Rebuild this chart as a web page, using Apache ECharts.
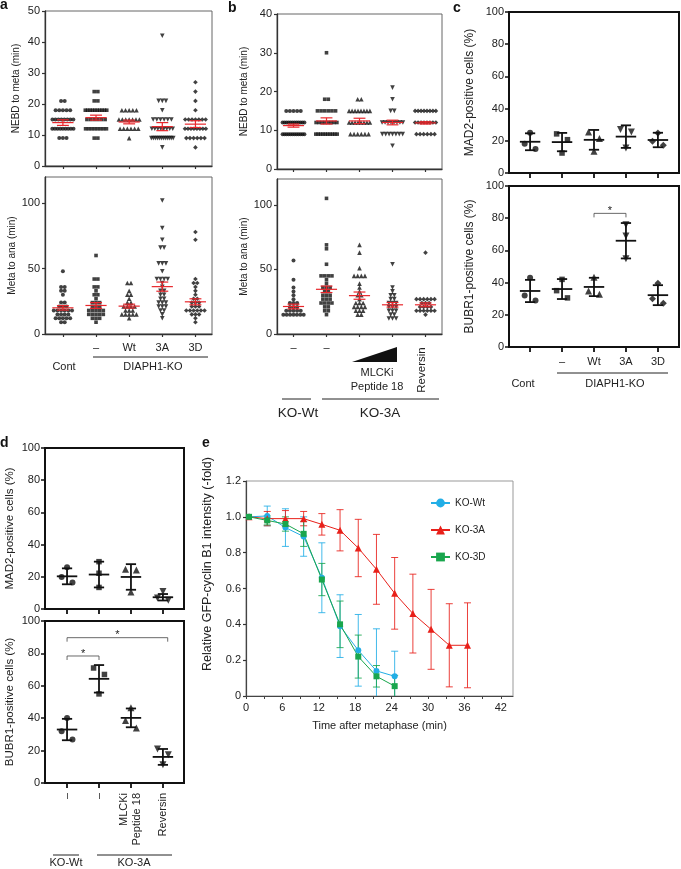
<!DOCTYPE html>
<html><head><meta charset="utf-8">
<script src="https://cdn.jsdelivr.net/npm/echarts@6/dist/echarts.min.js"></script>
<style>html,body{margin:0;padding:0;background:#fff}#c{width:681px;height:869px}</style>
</head><body><div id="c"></div>
<script>
// ================= DATA =================
// Panel a (DIAPH1-KO rescue)
const aLabels = ['', '–', 'Wt', '3A', '3D'];
const aShapes = ['circle', 'rect', 'triangle', 'triangle-down', 'diamond'];
const aNebdCont = [21,21,18,18,18,18,18,15,15,15,15,15,15,15,15,12,12,12,12,12,12,12,12,12,9,9,9];
const aNebdKO   = [24,24,21,21,18,18,18,18,18,18,18,18,18,18,15,15,15,15,15,15,12,12,12,12,12,12,12,12,9,9];
const aNebdWt   = [18,18,18,18,18,15,15,15,15,15,15,15,12,12,12,12,12,12,9];
const aNebd3A   = [42,21,21,21,18,15,15,15,15,15,15,12,12,12,12,12,12,12,12,9,9,9,9,9,9,9,9,9,9,9,9,6];
const aNebd3D   = [27,24,21,18,15,15,15,15,15,15,15,12,12,12,12,12,12,12,12,9,9,9,9,9,9,6];
const aNebdMean = [14.0, 15.6, 14.2, 12.7, 13.5];
const aNebdSem  = [0.9, 0.8, 0.6, 1.3, 1.1];
const aMetaCont = [48,36,36,33,33,30,24,24,21,21,21,18,18,18,18,18,18,15,15,15,15,12,12,12,12,12,9,9];
const aMetaKO   = [60,42,42,36,36,33,30,30,27,24,24,24,21,21,21,18,18,18,18,18,15,15,15,15,15,12,12,12,9];
const aMetaWt   = [39,39,33,30,30,27,24,24,21,21,21,21,18,18,18,15,15,15,15,15,12];
const aMeta3A   = [102,81,72,66,66,54,54,54,48,42,42,42,42,39,36,33,33,30,30,27,27,24,24,24,21,21,21,18,18,15,12];
const aMeta3D   = [78,72,42,39,39,36,33,30,27,27,24,24,24,21,21,21,18,18,18,18,18,18,15,15,15,12,9];
const aMetaMean = [20.0, 21.8, 21.3, 36.2, 24.6];
const aMetaSem  = [1.7, 2.2, 1.5, 3.5, 2.3];

// Panel b (KO-Wt / KO-3A + inhibitors)
const bShapes = ['circle', 'rect', 'triangle', 'triangle-down', 'diamond'];
const bNebdWt   = [15,15,15,15,15,12,12,12,12,12,12,12,12,12,12,12,12,9,9,9,9,9,9,9,9,9,9,9,9];
const bNebd3A   = [30,18,18,15,15,15,15,15,15,12,12,12,12,12,12,12,12,9,9,9,9,9,9,9,9,9,9];
const bNebdMlo  = [18,18,15,15,15,15,15,15,15,15,12,12,12,12,12,12,12,12,9,9,9,9,9,9];
const bNebdMhi  = [21,18,15,15,12,12,12,12,12,12,12,12,9,9,9,9,9,9,9,6];
const bNebdRev  = [15,15,15,15,15,15,15,15,12,12,12,12,12,12,12,12,9,9,9,9,9,9];
const bNebdMean = [11.2, 12.4, 12.4, 12.0, 11.9];
const bNebdSem  = [0.4, 0.8, 0.7, 0.6, 0.3];
const bMetaWt   = [57,42,36,33,30,27,24,24,24,21,21,21,18,18,18,18,18,15,15,15,15,15,15,15];
const bMeta3A   = [105,69,66,54,45,45,45,45,42,39,36,36,36,33,33,30,30,30,27,27,27,24,24,24,24,21,21,18,18,15];
const bMetaMlo  = [69,63,51,45,45,45,45,39,36,33,30,30,27,24,24,24,21,21,21,21,18,18,18,15,15];
const bMetaMhi  = [54,36,33,30,30,27,27,24,24,24,21,21,21,18,18,18,15,15,12,12,12];
const bMetaRev  = [63,27,27,27,27,27,27,24,24,24,21,21,21,21,18,18,18,18,18,18,15];
const bMetaMean = [21.3, 34.6, 29.7, 22.6, 22.6];
const bMetaSem  = [1.8, 2.5, 2.8, 1.8, 1.5];

// Panel c (MAD2 / BUBR1, DIAPH1-KO rescue)
const cShapes = ['circle', 'rect', 'triangle', 'triangle-down', 'diamond'];
const cMad2Pts  = [[25, 18.2, 14.9], [24.3, 20.7, 12.4], [25.5, 21.5, 13.5], [27, 25.5, 15.5], [24.8, 19.7, 17.2]];
const cMad2Mean = [19.4, 19.2, 20.6, 22.6, 20.5];
const cMad2Sd   = [5.25, 5.7, 6.15, 7.0, 4.5];
const cBubPts   = [[43, 32, 28.9], [42, 35, 30.5], [43.3, 34.8, 32.8], [76, 69, 54.8], [39.6, 29.9, 27.2]];
const cBubMean  = [34.8, 36.0, 37.3, 66.0, 32.2];
const cBubSd    = [6.9, 6.2, 5.7, 11.0, 6.2];
const cBubSig   = [[2, 3, 83]];

// Panel d (MAD2 / BUBR1, KO-3A + inhibitors)
const dLabels = ['–', '–', 'MLCKi\nPeptide 18', 'Reversin'];
const dShapes = ['circle', 'rect', 'triangle', 'triangle-down'];
const dMad2Pts  = [[26, 19.8, 16.5], [29.4, 22.2, 13.4], [24.7, 24.3, 10.5], [10.9, 6.8, 5.5]];
const dMad2Mean = [20.3, 21.4, 19.9, 7.3];
const dMad2Sd   = [4.95, 8.0, 7.95, 2.0];
const dBubPts   = [[40.2, 32, 26.8], [71, 67, 55], [46.4, 38.6, 34], [21, 17.5, 11.3]];
const dBubMean  = [33.0, 64.3, 40.2, 16.1];
const dBubSd    = [6.6, 8.5, 5.8, 4.9];
const dBubSig   = [[0, 1, 78.4], [0, 3.15, 89.7]];

// Panel e (GFP-cyclin B1 decay)
const eTime   = [0.5, 3.5, 6.5, 9.5, 12.5, 15.5, 18.5, 21.5, 24.5, 27.5, 30.5, 33.5, 36.5];
const eWtMean = [1.0, 1.005, 0.94, 0.89, 0.66, 0.39, 0.255, 0.14, 0.11];
const eWtSd   = [0, 0.055, 0.105, 0.11, 0.195, 0.175, 0.2, 0.235, 0.14];
const e3AMean = [1.0, 0.99, 0.99, 0.99, 0.958, 0.925, 0.826, 0.707, 0.573, 0.46, 0.372, 0.283, 0.283];
const e3ASd   = [0, 0.04, 0.045, 0.04, 0.06, 0.115, 0.16, 0.195, 0.2, 0.22, 0.223, 0.232, 0.237];
const e3DMean = [1.0, 0.98, 0.96, 0.905, 0.65, 0.40, 0.22, 0.11, 0.055];
const e3DSd   = [0, 0.025, 0.04, 0.07, 0.09, 0.13, 0.12, 0.06, 0.06];
const eXTicks = [0, 3, 6, 9, 12, 15, 18, 21, 24, 27, 30, 33, 36, 39, 42];
const eXLabels = [0, 6, 12, 18, 24, 30, 36, 42];

// ================= RENDER =================
const FONT = 'Liberation Sans, Arial, sans-serif';
const chart = echarts.init(document.getElementById('c'), null, {renderer: 'canvas', width: 681, height: 869});

const grids = [
  {left: 45,  top: 11,  width: 167, height: 155},  // 0 a top
  {left: 45,  top: 177, width: 167, height: 157},  // 1 a bottom
  {left: 277, top: 14,  width: 165, height: 155},  // 2 b top
  {left: 277, top: 179, width: 165, height: 155},  // 3 b bottom
  {left: 509, top: 12,  width: 170, height: 161},  // 4 c top
  {left: 509, top: 186, width: 170, height: 161},  // 5 c bottom
  {left: 45,  top: 448, width: 139, height: 161},  // 6 d top
  {left: 45,  top: 621, width: 139, height: 162},  // 7 d bottom
  {left: 246, top: 481, width: 267, height: 215}   // 8 e
];
const frameStyle = [
  ['#666', 1], ['#666', 1], ['#666', 1], ['#666', 1],
  ['#111', 2], ['#111', 2], ['#111', 2], ['#111', 2],
  ['#999', 1]
];
grids.forEach((g, i) => { g.show = true; g.borderColor = frameStyle[i][0]; g.borderWidth = frameStyle[i][1]; g.containLabel = false; });

const range = (n) => Array.from({length: n}, (_, i) => i);

function xAxisCat(gi, min, max, n, opt) {
  const thick = gi >= 4;
  return {
    gridIndex: gi, type: 'value', min, max,
    axisLine: {show: true, onZero: false, lineStyle: {color: thick ? '#111' : '#333', width: thick ? 2 : 1.3}},
    axisTick: {show: true, customValues: range(n), length: thick ? 5 : 3, lineStyle: {color: thick ? '#111' : '#333', width: thick ? 1.8 : 1.2}},
    axisLabel: Object.assign({show: false, color: '#222', fontSize: 11, fontFamily: FONT}, opt || {}),
    splitLine: {show: false}
  };
}
function yAxisVal(gi, min, max, interval, name, nameGap, nameSize, opt) {
  const thick = gi >= 4 && gi <= 7;
  const ax = {
    gridIndex: gi, type: 'value', min, max, interval,
    name, nameLocation: 'middle', nameGap,
    nameTextStyle: {fontSize: nameSize, color: '#222', fontFamily: FONT},
    axisLine: {show: true, onZero: false, lineStyle: {color: thick ? '#111' : '#333', width: thick ? 2 : 1.3}},
    axisTick: {show: true, length: thick ? 4 : 3, lineStyle: {color: thick ? '#111' : '#333', width: thick ? 1.5 : 1.2}},
    axisLabel: {color: '#222', fontSize: 11, fontFamily: FONT, margin: 5},
    splitLine: {show: false}
  };
  if (opt) { for (const k in opt) ax[k] = Object.assign(ax[k] || {}, opt[k]); }
  return ax;
}

const xAxes = [
  xAxisCat(0, -0.54, 4.5, 5),
  xAxisCat(1, -0.54, 4.5, 5, {show: true, customValues: [1, 2, 3, 4], formatter: v => aLabels[Math.round(v)], margin: 8}),
  xAxisCat(2, -0.5, 4.5, 5),
  xAxisCat(3, -0.5, 4.5, 5, {show: true, customValues: [0, 1], formatter: () => '–', margin: 8}),
  xAxisCat(4, -0.66, 4.66, 5),
  xAxisCat(5, -0.66, 4.66, 5, {show: true, customValues: [1, 2, 3, 4], formatter: v => aLabels[Math.round(v)], margin: 9}),
  xAxisCat(6, -0.69, 3.66, 4),
  xAxisCat(7, -0.69, 3.66, 4, {show: true, customValues: [0, 1, 2, 3], formatter: v => dLabels[Math.round(v)], rotate: 90, margin: 10, lineHeight: 13}),
  {
    gridIndex: 8, type: 'value', min: 0, max: 44,
    name: 'Time after metaphase (min)', nameLocation: 'middle', nameGap: 24,
    nameTextStyle: {fontSize: 11, color: '#222', fontFamily: FONT},
    axisLine: {show: true, onZero: false, lineStyle: {color: '#444', width: 1.2}},
    axisTick: {show: true, customValues: eXTicks, length: 3, lineStyle: {color: '#444'}},
    axisLabel: {customValues: eXLabels, color: '#222', fontSize: 11, fontFamily: FONT, margin: 6},
    splitLine: {show: false}
  }
];
const yAxes = [
  yAxisVal(0, 0, 50, 10, 'NEBD to meta (min)', 24, 10),
  yAxisVal(1, 0, 120, 50, 'Meta to ana (min)', 24, 10, {axisLabel: {customValues: [0, 50, 100]}, axisTick: {customValues: [0, 50, 100]}}),
  yAxisVal(2, 0, 40, 10, 'NEBD to meta (min)', 28, 10),
  yAxisVal(3, 0, 120, 50, 'Meta to ana (min)', 28, 10, {axisLabel: {customValues: [0, 50, 100]}, axisTick: {customValues: [0, 50, 100]}}),
  yAxisVal(4, 0, 100, 20, 'MAD2-positive cells (%)', 33, 12),
  yAxisVal(5, 0, 100, 20, 'BUBR1-positive cells (%)', 33, 12),
  yAxisVal(6, 0, 100, 20, 'MAD2-positive cells (%)', 29, 11.5),
  yAxisVal(7, 0, 100, 20, 'BUBR1-positive cells (%)', 29, 11.5),
  yAxisVal(8, 0, 1.2, 0.2, '', 28, 11.5,
    {axisLabel: {formatter: v => (Math.abs(v) < 1e-9 ? '0' : v.toFixed(1))}, axisLine: {lineStyle: {color: '#444', width: 1.2}}})
];

// ---- helpers ----
function symOf(s) { return s === 'triangle-down' ? {symbol: 'triangle', symbolRotate: 180} : {symbol: s, symbolRotate: 0}; }
const smallSize = {circle: 4, rect: 3.6, triangle: 4.6, 'triangle-down': 4.6, diamond: 4.6};
const bigSize = {circle: 6, rect: 5.5, triangle: 7, 'triangle-down': 7, diamond: 7};

function swarm(vals, g) {
  const counts = new Map();
  vals.forEach(v => counts.set(v, (counts.get(v) || 0) + 1));
  const out = [];
  counts.forEach((n, v) => {
    const s = Math.min(0.11, 0.72 / n);
    for (let i = 0; i < n; i++) out.push([g + (i - (n - 1) / 2) * s, v]);
  });
  return out;
}
function spread(vals, g, off, thr) {
  const idx = vals.map((_, i) => i).sort((i, j) => vals[j] - vals[i]);
  const pos = vals.map(() => 0);
  const clusters = []; let cur = [idx[0]];
  for (let k = 1; k < idx.length; k++) {
    if (vals[cur[cur.length - 1]] - vals[idx[k]] < thr) cur.push(idx[k]); else { clusters.push(cur); cur = [idx[k]]; }
  }
  clusters.push(cur);
  clusters.forEach(c => {
    if (c.length === 2) { pos[c[0]] = -off; pos[c[1]] = off; }
    else if (c.length >= 3) { pos[c[0]] = 0; pos[c[1]] = -off; pos[c[2]] = off; }
  });
  return vals.map((v, i) => [g + pos[i], v]);
}
function meanBar(halfW, capW, color, lw) {
  return function (params, api) {
    const x = api.value(0), m = api.value(1), e = api.value(2);
    const unit = api.size([1, 0])[0];
    const pm = api.coord([x, m]), pl = api.coord([x, m - e]), ph = api.coord([x, m + e]);
    const L = (x1, y1, x2, y2) => ({type: 'line', shape: {x1, y1, x2, y2}, style: {stroke: color, lineWidth: lw}});
    return {type: 'group', children: [
      L(pm[0] - halfW * unit, pm[1], pm[0] + halfW * unit, pm[1]),
      L(pl[0], pl[1], ph[0], ph[1]),
      L(pl[0] - capW * unit, pl[1], pl[0] + capW * unit, pl[1]),
      L(ph[0] - capW * unit, ph[1], ph[0] + capW * unit, ph[1])
    ]};
  };
}
function errBar(color) {
  return function (params, api) {
    const x = api.value(0), m = api.value(1), e = api.value(2);
    if (!e) return {type: 'group', children: []};
    const lo = m - e, hi = m + e;
    const ph = api.coord([x, hi]), pl = api.coord([x, Math.max(lo, 0)]);
    const st = () => ({stroke: color, lineWidth: 1, opacity: 0.85});
    const ch = [
      {type: 'line', shape: {x1: pl[0], y1: pl[1], x2: ph[0], y2: ph[1]}, style: st()},
      {type: 'line', shape: {x1: ph[0] - 3.5, y1: ph[1], x2: ph[0] + 3.5, y2: ph[1]}, style: st()}
    ];
    if (lo >= 0) ch.push({type: 'line', shape: {x1: pl[0] - 3.5, y1: pl[1], x2: pl[0] + 3.5, y2: pl[1]}, style: st()});
    return {type: 'group', children: ch};
  };
}
function sigRender(params, api) {
  const x1 = api.value(0), x2 = api.value(1), y = api.value(2);
  const p1 = api.coord([x1, y]), p2 = api.coord([x2, y]);
  return {type: 'group', children: [
    {type: 'polyline', shape: {points: [[p1[0], p1[1] + 4], [p1[0], p1[1]], [p2[0], p2[1]], [p2[0], p2[1] + 4]]},
     style: {stroke: '#444', lineWidth: 0.8, fill: null}},
    {type: 'text', x: (p1[0] + p2[0]) / 2, y: p1[1] + 3,
     style: {text: '*', align: 'center', verticalAlign: 'bottom', fontSize: 11, fontFamily: FONT, fill: '#222'}}
  ]};
}

const series = [];
function addSwarmPanel(gi, groups, shapes, means, sems) {
  groups.forEach((vals, g) => {
    series.push(Object.assign({
      type: 'scatter', xAxisIndex: gi, yAxisIndex: gi, data: swarm(vals, g),
      symbolSize: smallSize[shapes[g]], itemStyle: {color: '#111'}, z: 2, silent: true
    }, symOf(shapes[g])));
  });
  series.push({type: 'custom', xAxisIndex: gi, yAxisIndex: gi, renderItem: meanBar(0.32, 0.18, '#e8262b', 1.2),
    data: means.map((m, g) => [g, m, sems[g]]), z: 5, silent: true});
}
function addDotPanel(gi, pts, shapes, means, sds, sig) {
  pts.forEach((vals, g) => {
    series.push(Object.assign({
      type: 'scatter', xAxisIndex: gi, yAxisIndex: gi, data: spread(vals, g, 0.17, 6),
      symbolSize: bigSize[shapes[g]], itemStyle: {color: '#111'}, z: 2, silent: true
    }, symOf(shapes[g])));
  });
  series.push({type: 'custom', xAxisIndex: gi, yAxisIndex: gi, renderItem: meanBar(0.32, 0.16, '#111', 1.8),
    data: means.map((m, g) => [g, m, sds[g]]), z: 5, silent: true});
  if (sig) series.push({type: 'custom', xAxisIndex: gi, yAxisIndex: gi, renderItem: sigRender, data: sig, z: 5, silent: true});
}

addSwarmPanel(0, [aNebdCont, aNebdKO, aNebdWt, aNebd3A, aNebd3D], aShapes, aNebdMean, aNebdSem);
addSwarmPanel(1, [aMetaCont, aMetaKO, aMetaWt, aMeta3A, aMeta3D], aShapes, aMetaMean, aMetaSem);
addSwarmPanel(2, [bNebdWt, bNebd3A, bNebdMlo, bNebdMhi, bNebdRev], bShapes, bNebdMean, bNebdSem);
addSwarmPanel(3, [bMetaWt, bMeta3A, bMetaMlo, bMetaMhi, bMetaRev], bShapes, bMetaMean, bMetaSem);
addDotPanel(4, cMad2Pts, cShapes, cMad2Mean, cMad2Sd, null);
addDotPanel(5, cBubPts, cShapes, cBubMean, cBubSd, cBubSig);
addDotPanel(6, dMad2Pts, dShapes, dMad2Mean, dMad2Sd, null);
addDotPanel(7, dBubPts, dShapes, dBubMean, dBubSd, dBubSig);

const eSeries = [
  {name: 'KO-Wt', mean: eWtMean, sd: eWtSd, color: '#22aee6', symbol: 'circle', size: 6},
  {name: 'KO-3A', mean: e3AMean, sd: e3ASd, color: '#e8201a', symbol: 'triangle', size: 7},
  {name: 'KO-3D', mean: e3DMean, sd: e3DSd, color: '#19a64d', symbol: 'rect', size: 6}
];
eSeries.forEach(s => {
  series.push({type: 'custom', xAxisIndex: 8, yAxisIndex: 8, renderItem: errBar(s.color),
    data: s.mean.map((m, i) => [eTime[i], m, s.sd[i]]), z: 3, silent: true});
});
eSeries.forEach(s => {
  series.push({type: 'line', name: s.name, xAxisIndex: 8, yAxisIndex: 8,
    data: s.mean.map((m, i) => [eTime[i], m]), symbol: s.symbol, symbolSize: s.size, showAllSymbol: true,
    lineStyle: {width: 1, color: s.color}, itemStyle: {color: s.color}, z: 4, silent: true});
});

// ---- annotations ----
const T = (x, y, text, size, extra) => Object.assign({type: 'text', x, y, silent: true,
  style: {text, fontSize: size, fontFamily: FONT, fill: '#222', align: 'center', verticalAlign: 'middle'}}, extra || {});
const Lg = (x1, y1, x2, y2, w) => ({type: 'line', silent: true, shape: {x1, y1, x2, y2}, style: {stroke: '#222', lineWidth: w || 1}});
const bold = (x, y, t) => ({type: 'text', x, y, silent: true,
  style: {text: t, fontSize: 14, fontWeight: 'bold', fontFamily: FONT, fill: '#111', align: 'left', verticalAlign: 'middle'}});

const graphic = [
  bold(0, 5, 'a'), bold(228, 8, 'b'), bold(453, 8, 'c'), bold(0, 443, 'd'), bold(202, 443, 'e'),
  // a
  T(64, 367, 'Cont', 11), T(153, 367, 'DIAPH1-KO', 11), Lg(93, 357, 208, 357),
  // b
  {type: 'polygon', silent: true, shape: {points: [[352, 362], [397, 347], [397, 362]]}, style: {fill: '#111'}},
  T(377, 373, 'MLCKi', 11), T(377, 387, 'Peptide 18', 11),
  {type: 'text', x: 422, y: 370, rotation: Math.PI / 2, silent: true,
   style: {text: 'Reversin', fontSize: 11.5, fontFamily: FONT, fill: '#222', align: 'center', verticalAlign: 'middle'}},
  Lg(282, 399, 311, 399), Lg(322, 399, 439, 399),
  T(298, 413, 'KO-Wt', 13.5), T(380, 413, 'KO-3A', 13.5),
  // c
  T(523, 384, 'Cont', 11), T(615, 384, 'DIAPH1-KO', 11), Lg(557, 373, 668, 373),
  // d
  Lg(53, 855, 79, 855), Lg(97, 855, 172, 855),
  T(66, 863, 'KO-Wt', 11), T(134, 863, 'KO-3A', 11),
  // e y-axis title
  {type: 'text', x: 208, y: 564, rotation: Math.PI / 2, silent: true,
   style: {text: 'Relative GFP-cyclin B1 intensity (-fold)', fontSize: 12.5, fontFamily: FONT, fill: '#222', align: 'center', verticalAlign: 'middle'}}
];

chart.setOption({
  animation: false,
  backgroundColor: '#fff',
  textStyle: {fontFamily: FONT},
  grid: grids,
  xAxis: xAxes,
  yAxis: yAxes,
  legend: {
    data: ['KO-Wt', 'KO-3A', 'KO-3D'], orient: 'vertical', left: 425, top: 493,
    itemWidth: 19, itemHeight: 11, itemGap: 17, selectedMode: false,
    textStyle: {fontSize: 10, color: '#222', fontFamily: FONT}
  },
  series,
  graphic
});
</script>
</body></html>
